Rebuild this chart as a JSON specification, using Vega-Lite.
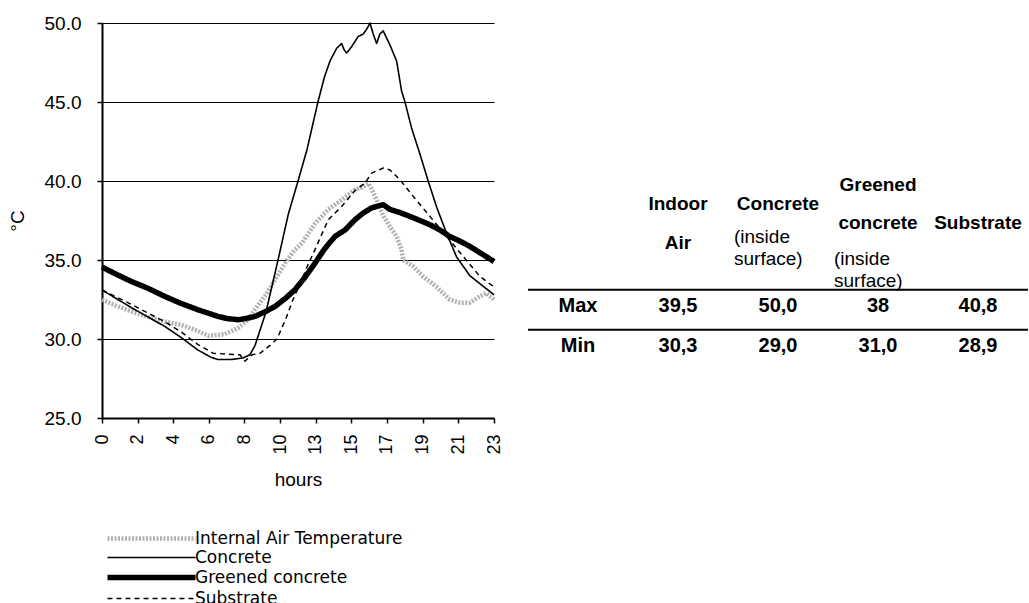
{
  "$schema": "https://vega.github.io/schema/vega-lite/v6.json",
  "background": "white",
  "padding": {"left": 8, "top": 14, "right": 0, "bottom": 0},
  "config": {"font": "Liberation Sans", "view": {"stroke": null}},
  "bounds": "flush",
  "spacing": 34,
  "hconcat": [
    {
      "width": 392,
      "height": 395,
      "data": {"values": [
        {"series": "Internal Air Temperature", "hour": 0, "temp": 32.5},
        {"series": "Internal Air Temperature", "hour": 0.8, "temp": 32.1},
        {"series": "Internal Air Temperature", "hour": 1.63, "temp": 31.75},
        {"series": "Internal Air Temperature", "hour": 2.6, "temp": 31.4},
        {"series": "Internal Air Temperature", "hour": 3.52, "temp": 31.1},
        {"series": "Internal Air Temperature", "hour": 4.44, "temp": 30.9},
        {"series": "Internal Air Temperature", "hour": 5.39, "temp": 30.5},
        {"series": "Internal Air Temperature", "hour": 5.96, "temp": 30.2},
        {"series": "Internal Air Temperature", "hour": 6.89, "temp": 30.3},
        {"series": "Internal Air Temperature", "hour": 7.64, "temp": 30.7},
        {"series": "Internal Air Temperature", "hour": 8.2, "temp": 31.2},
        {"series": "Internal Air Temperature", "hour": 8.58, "temp": 31.85},
        {"series": "Internal Air Temperature", "hour": 9.21, "temp": 32.8},
        {"series": "Internal Air Temperature", "hour": 9.72, "temp": 33.75},
        {"series": "Internal Air Temperature", "hour": 10.6, "temp": 35.0},
        {"series": "Internal Air Temperature", "hour": 11.2, "temp": 35.6},
        {"series": "Internal Air Temperature", "hour": 11.83, "temp": 36.05},
        {"series": "Internal Air Temperature", "hour": 12.4, "temp": 36.7},
        {"series": "Internal Air Temperature", "hour": 12.95, "temp": 37.3},
        {"series": "Internal Air Temperature", "hour": 13.71, "temp": 38.2},
        {"series": "Internal Air Temperature", "hour": 14.46, "temp": 38.8},
        {"series": "Internal Air Temperature", "hour": 15.21, "temp": 39.45},
        {"series": "Internal Air Temperature", "hour": 15.6, "temp": 39.6},
        {"series": "Internal Air Temperature", "hour": 15.95, "temp": 39.85},
        {"series": "Internal Air Temperature", "hour": 16.14, "temp": 39.5},
        {"series": "Internal Air Temperature", "hour": 16.42, "temp": 38.8},
        {"series": "Internal Air Temperature", "hour": 16.79, "temp": 37.8},
        {"series": "Internal Air Temperature", "hour": 17.17, "temp": 37.1},
        {"series": "Internal Air Temperature", "hour": 17.54, "temp": 36.5},
        {"series": "Internal Air Temperature", "hour": 17.82, "temp": 35.65},
        {"series": "Internal Air Temperature", "hour": 17.91, "temp": 35.0},
        {"series": "Internal Air Temperature", "hour": 18.47, "temp": 34.6},
        {"series": "Internal Air Temperature", "hour": 19.03, "temp": 33.95},
        {"series": "Internal Air Temperature", "hour": 19.78, "temp": 33.3},
        {"series": "Internal Air Temperature", "hour": 20.52, "temp": 32.5},
        {"series": "Internal Air Temperature", "hour": 21.08, "temp": 32.3},
        {"series": "Internal Air Temperature", "hour": 21.65, "temp": 32.3},
        {"series": "Internal Air Temperature", "hour": 22.21, "temp": 32.7},
        {"series": "Internal Air Temperature", "hour": 22.58, "temp": 32.9},
        {"series": "Internal Air Temperature", "hour": 23, "temp": 32.5},
        {"series": "Concrete", "hour": 0, "temp": 33.1},
        {"series": "Concrete", "hour": 1.63, "temp": 32.0},
        {"series": "Concrete", "hour": 3.52, "temp": 30.8},
        {"series": "Concrete", "hour": 4.44, "temp": 30.1},
        {"series": "Concrete", "hour": 5.39, "temp": 29.3},
        {"series": "Concrete", "hour": 6.12, "temp": 28.85},
        {"series": "Concrete", "hour": 6.5, "temp": 28.7},
        {"series": "Concrete", "hour": 7.25, "temp": 28.7},
        {"series": "Concrete", "hour": 7.92, "temp": 28.8},
        {"series": "Concrete", "hour": 8.31, "temp": 29.0},
        {"series": "Concrete", "hour": 8.6, "temp": 29.6},
        {"series": "Concrete", "hour": 9.21, "temp": 31.7},
        {"series": "Concrete", "hour": 9.89, "temp": 35.0},
        {"series": "Concrete", "hour": 10.7, "temp": 37.9},
        {"series": "Concrete", "hour": 11.52, "temp": 40.0},
        {"series": "Concrete", "hour": 12.28, "temp": 42.0},
        {"series": "Concrete", "hour": 13.13, "temp": 45.0},
        {"series": "Concrete", "hour": 13.5, "temp": 46.6},
        {"series": "Concrete", "hour": 13.81, "temp": 47.6},
        {"series": "Concrete", "hour": 14.18, "temp": 48.4},
        {"series": "Concrete", "hour": 14.46, "temp": 48.7},
        {"series": "Concrete", "hour": 14.6, "temp": 48.3},
        {"series": "Concrete", "hour": 14.74, "temp": 48.1},
        {"series": "Concrete", "hour": 15.02, "temp": 48.5},
        {"series": "Concrete", "hour": 15.39, "temp": 49.15},
        {"series": "Concrete", "hour": 15.67, "temp": 49.3},
        {"series": "Concrete", "hour": 15.86, "temp": 49.6},
        {"series": "Concrete", "hour": 16.05, "temp": 50.0},
        {"series": "Concrete", "hour": 16.23, "temp": 49.3},
        {"series": "Concrete", "hour": 16.42, "temp": 48.7},
        {"series": "Concrete", "hour": 16.6, "temp": 49.3},
        {"series": "Concrete", "hour": 16.79, "temp": 49.5},
        {"series": "Concrete", "hour": 17.17, "temp": 48.6},
        {"series": "Concrete", "hour": 17.54, "temp": 47.6},
        {"series": "Concrete", "hour": 17.82, "temp": 45.7},
        {"series": "Concrete", "hour": 18.01, "temp": 45.0},
        {"series": "Concrete", "hour": 18.38, "temp": 43.35},
        {"series": "Concrete", "hour": 18.85, "temp": 41.7},
        {"series": "Concrete", "hour": 19.31, "temp": 40.0},
        {"series": "Concrete", "hour": 19.8, "temp": 38.3},
        {"series": "Concrete", "hour": 20.34, "temp": 36.7},
        {"series": "Concrete", "hour": 20.9, "temp": 35.2},
        {"series": "Concrete", "hour": 21.65, "temp": 34.0},
        {"series": "Concrete", "hour": 22.21, "temp": 33.5},
        {"series": "Concrete", "hour": 23, "temp": 32.8},
        {"series": "Greened concrete", "hour": 0, "temp": 34.55},
        {"series": "Greened concrete", "hour": 0.8, "temp": 34.1},
        {"series": "Greened concrete", "hour": 1.63, "temp": 33.65},
        {"series": "Greened concrete", "hour": 2.6, "temp": 33.2},
        {"series": "Greened concrete", "hour": 3.52, "temp": 32.7},
        {"series": "Greened concrete", "hour": 4.44, "temp": 32.25},
        {"series": "Greened concrete", "hour": 5.39, "temp": 31.85},
        {"series": "Greened concrete", "hour": 6.52, "temp": 31.43},
        {"series": "Greened concrete", "hour": 7.0, "temp": 31.3},
        {"series": "Greened concrete", "hour": 7.64, "temp": 31.22},
        {"series": "Greened concrete", "hour": 8.1, "temp": 31.3},
        {"series": "Greened concrete", "hour": 8.6, "temp": 31.43},
        {"series": "Greened concrete", "hour": 9.21, "temp": 31.75},
        {"series": "Greened concrete", "hour": 9.72, "temp": 32.06},
        {"series": "Greened concrete", "hour": 10.5, "temp": 32.6},
        {"series": "Greened concrete", "hour": 11.26, "temp": 33.12},
        {"series": "Greened concrete", "hour": 12.1, "temp": 33.9},
        {"series": "Greened concrete", "hour": 12.95, "temp": 34.8},
        {"series": "Greened concrete", "hour": 13.5, "temp": 35.7},
        {"series": "Greened concrete", "hour": 14.09, "temp": 36.5},
        {"series": "Greened concrete", "hour": 14.65, "temp": 36.9},
        {"series": "Greened concrete", "hour": 15.21, "temp": 37.55},
        {"series": "Greened concrete", "hour": 15.7, "temp": 38.0},
        {"series": "Greened concrete", "hour": 16.14, "temp": 38.3},
        {"series": "Greened concrete", "hour": 16.79, "temp": 38.5},
        {"series": "Greened concrete", "hour": 17.17, "temp": 38.2},
        {"series": "Greened concrete", "hour": 17.73, "temp": 38.0},
        {"series": "Greened concrete", "hour": 18.29, "temp": 37.76},
        {"series": "Greened concrete", "hour": 18.85, "temp": 37.5},
        {"series": "Greened concrete", "hour": 19.41, "temp": 37.23},
        {"series": "Greened concrete", "hour": 19.97, "temp": 36.9},
        {"series": "Greened concrete", "hour": 20.52, "temp": 36.49},
        {"series": "Greened concrete", "hour": 21.08, "temp": 36.2},
        {"series": "Greened concrete", "hour": 21.65, "temp": 35.86},
        {"series": "Greened concrete", "hour": 22.3, "temp": 35.4},
        {"series": "Greened concrete", "hour": 23, "temp": 34.9},
        {"series": "Substrate", "hour": 0, "temp": 33.1},
        {"series": "Substrate", "hour": 1.63, "temp": 32.2},
        {"series": "Substrate", "hour": 3.52, "temp": 31.1},
        {"series": "Substrate", "hour": 4.44, "temp": 30.45},
        {"series": "Substrate", "hour": 5.39, "temp": 29.65},
        {"series": "Substrate", "hour": 6.24, "temp": 29.1},
        {"series": "Substrate", "hour": 7.0, "temp": 29.05},
        {"series": "Substrate", "hour": 7.75, "temp": 29.0},
        {"series": "Substrate", "hour": 8.03, "temp": 28.6},
        {"series": "Substrate", "hour": 8.43, "temp": 29.0},
        {"series": "Substrate", "hour": 8.88, "temp": 29.1},
        {"series": "Substrate", "hour": 9.44, "temp": 29.6},
        {"series": "Substrate", "hour": 9.83, "temp": 30.0},
        {"series": "Substrate", "hour": 10.5, "temp": 31.3},
        {"series": "Substrate", "hour": 11.1, "temp": 32.5},
        {"series": "Substrate", "hour": 11.69, "temp": 33.5},
        {"series": "Substrate", "hour": 12.3, "temp": 34.6},
        {"series": "Substrate", "hour": 12.95, "temp": 35.66},
        {"series": "Substrate", "hour": 13.71, "temp": 37.55},
        {"series": "Substrate", "hour": 14.46, "temp": 38.39},
        {"series": "Substrate", "hour": 15.21, "temp": 39.4},
        {"series": "Substrate", "hour": 15.77, "temp": 39.87},
        {"series": "Substrate", "hour": 16.14, "temp": 40.5},
        {"series": "Substrate", "hour": 16.79, "temp": 40.82},
        {"series": "Substrate", "hour": 17.17, "temp": 40.7},
        {"series": "Substrate", "hour": 17.73, "temp": 40.08},
        {"series": "Substrate", "hour": 18.47, "temp": 39.03},
        {"series": "Substrate", "hour": 19.41, "temp": 37.76},
        {"series": "Substrate", "hour": 20.34, "temp": 36.49},
        {"series": "Substrate", "hour": 21.27, "temp": 35.23},
        {"series": "Substrate", "hour": 22.21, "temp": 33.96},
        {"series": "Substrate", "hour": 23, "temp": 33.3}
      ]},
      "mark": {"type": "line", "strokeJoin": "round"},
      "encoding": {
        "x": {
          "field": "hour", "type": "quantitative",
          "scale": {"domain": [0, 10, 13, 23], "range": [0, 178, 213.6, 392], "nice": false, "zero": false},
          "axis": {
            "title": "hours", "values": [0, 2, 4, 6, 8, 10, 13, 15, 17, 19, 21, 23],
            "labelAngle": -90, "grid": false, "domainColor": "#000", "domainWidth": 2,
            "tickColor": "#000", "tickSize": 5, "tickWidth": 1.5,
            "labelFontSize": 18, "labelPadding": 11, "labelColor": "#000",
            "labelOverlap": false, "labelFlush": false,
            "titleFontSize": 19, "titleFontWeight": "normal", "titleColor": "#000", "titlePadding": 16
          }
        },
        "y": {
          "field": "temp", "type": "quantitative",
          "scale": {"domain": [25, 50], "nice": false, "zero": false},
          "axis": {
            "title": "°C", "values": [25, 30, 35, 40, 45, 50], "format": ".1f",
            "grid": true, "gridColor": "#000", "gridOpacity": 1, "gridWidth": 1,
            "domainColor": "#000", "domainWidth": 2,
            "tickColor": "#000", "tickSize": 5, "tickWidth": 1.5,
            "labelFontSize": 19, "labelColor": "#000", "labelPadding": 16,
            "labelOverlap": false, "labelFlush": false,
            "titleFontSize": 19, "titleFontWeight": "normal", "titleColor": "#000", "titlePadding": 17
          }
        },
        "color": {
          "field": "series", "type": "nominal",
          "scale": {"domain": ["Internal Air Temperature", "Concrete", "Greened concrete", "Substrate"], "range": ["#b0b0b0", "#000000", "#000000", "#000000"]},
          "legend": {"title": null, "orient": "none", "legendX": 5, "legendY": 507, "direction": "vertical", "symbolType": "M-1.6,0H16", "symbolSize": 100, "labelOffset": 71, "labelFont": "DejaVu Sans", "labelFontSize": 17, "labelColor": "#000", "labelLimit": 0, "rowPadding": 0}
        },
        "strokeWidth": {
          "field": "series", "type": "nominal",
          "scale": {"type": "ordinal", "domain": ["Internal Air Temperature", "Concrete", "Greened concrete", "Substrate"], "range": [4.5, 1.6, 5.5, 1.5]},
          "legend": {"title": null, "orient": "none", "legendX": 5, "legendY": 507, "direction": "vertical", "symbolType": "M-1.6,0H16", "symbolSize": 100, "labelOffset": 71, "labelFont": "DejaVu Sans", "labelFontSize": 17, "labelColor": "#000", "labelLimit": 0, "rowPadding": 0}
        },
        "strokeDash": {
          "field": "series", "type": "nominal",
          "scale": {"domain": ["Internal Air Temperature", "Concrete", "Greened concrete", "Substrate"], "range": [[2, 1.5], [1, 0], [1, 0], [5, 4]]},
          "legend": {"title": null, "orient": "none", "legendX": 5, "legendY": 507, "direction": "vertical", "symbolType": "M-1.6,0H16", "symbolSize": 100, "labelOffset": 71, "labelFont": "DejaVu Sans", "labelFontSize": 17, "labelColor": "#000", "labelLimit": 0, "rowPadding": 0}
        }
      }
    },
    {
      "width": 500,
      "height": 360,
      "data": {"values": [
        {"row": "header", "col": "Indoor", "line1": "\nIndoor", "line2": "\nAir", "note": ""},
        {"row": "header", "col": "Concrete", "line1": "\nConcrete", "line2": "", "note": "(inside\nsurface)"},
        {"row": "header", "col": "Greened", "line1": "Greened", "line2": "concrete", "note": "\n(inside\nsurface)"},
        {"row": "header", "col": "Substrate", "line1": "", "line2": "Substrate", "note": ""},
        {"row": "Max", "col": "label", "text": "Max"},
        {"row": "Max", "col": "Indoor", "text": "39,5"},
        {"row": "Max", "col": "Concrete", "text": "50,0"},
        {"row": "Max", "col": "Greened", "text": "38"},
        {"row": "Max", "col": "Substrate", "text": "40,8"},
        {"row": "Min", "col": "label", "text": "Min"},
        {"row": "Min", "col": "Indoor", "text": "30,3"},
        {"row": "Min", "col": "Concrete", "text": "29,0"},
        {"row": "Min", "col": "Greened", "text": "31,0"},
        {"row": "Min", "col": "Substrate", "text": "28,9"}
      ]},
      "layer": [
        {
          "transform": [{"filter": "datum.row !== 'header' && datum.col === 'label'"}],
          "mark": {"type": "rule", "color": "#000", "strokeWidth": 2},
          "encoding": {
            "y": {"field": "row", "type": "nominal", "bandPosition": 0,
              "scale": {"domain": ["header", "Max", "Min"], "range": [226.7, 346.7], "paddingInner": 0, "paddingOuter": 0},
              "axis": null}
          }
        },
        {
          "transform": [{"filter": "datum.row !== 'header'"}],
          "mark": {"type": "text", "fontWeight": "bold", "fontSize": 20, "dy": -4, "color": "#000"},
          "encoding": {
            "x": {"field": "col", "type": "nominal", "scale": {"domain": ["label", "Indoor", "Concrete", "Greened", "Substrate"], "paddingInner": 0, "paddingOuter": 0}, "axis": null},
            "y": {"field": "row", "type": "nominal", "axis": null},
            "text": {"field": "text"}
          }
        },
        {
          "transform": [{"filter": "datum.row === 'header'"}],
          "mark": {"type": "text", "fontWeight": "bold", "fontSize": 19, "lineBreak": "\n", "lineHeight": 19, "baseline": "middle", "dy": -85, "color": "#000"},
          "encoding": {
            "x": {"field": "col", "type": "nominal", "axis": null},
            "y": {"field": "row", "type": "nominal", "axis": null},
            "text": {"field": "line1"}
          }
        },
        {
          "transform": [{"filter": "datum.row === 'header'"}],
          "mark": {"type": "text", "fontWeight": "bold", "fontSize": 19, "lineBreak": "\n", "lineHeight": 20, "baseline": "middle", "dy": -47, "color": "#000"},
          "encoding": {
            "x": {"field": "col", "type": "nominal", "axis": null},
            "y": {"field": "row", "type": "nominal", "axis": null},
            "text": {"field": "line2"}
          }
        },
        {
          "transform": [{"filter": "datum.row === 'header'"}],
          "mark": {"type": "text", "fontWeight": "normal", "fontSize": 19, "lineBreak": "\n", "lineHeight": 22, "baseline": "top", "align": "left", "dx": -44, "dy": -42, "color": "#000"},
          "encoding": {
            "x": {"field": "col", "type": "nominal", "axis": null},
            "y": {"field": "row", "type": "nominal", "axis": null},
            "text": {"field": "note"}
          }
        }
      ]
    }
  ]
}
